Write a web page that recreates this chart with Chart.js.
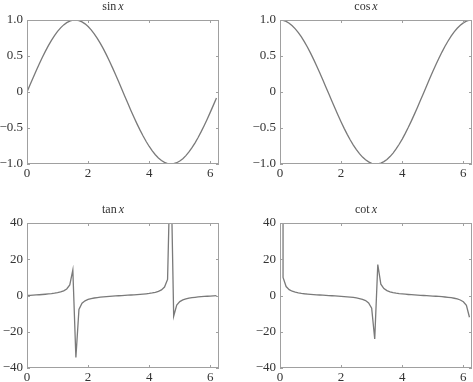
<!DOCTYPE html>
<html>
<head>
<meta charset="utf-8">
<script src="https://cdn.jsdelivr.net/npm/chart.js@4"></script>
<style>
 body{margin:0;background:#fff;}
 #wrap{position:relative;width:473px;height:382px;overflow:hidden;font-family:"Liberation Serif",serif;}
 .cell{position:absolute;width:236px;height:191px;}
 #probe{position:absolute;left:-100px;top:-100px;font:13px "Liberation Serif";}
</style>
</head>
<body>
<div id="wrap">
 <span id="probe">0.5 <i>x</i></span>
 <div class="cell" style="left:0;top:0"><canvas id="c1"></canvas></div>
 <div class="cell" style="left:237px;top:0"><canvas id="c2"></canvas></div>
 <div class="cell" style="left:0;top:191px"><canvas id="c3"></canvas></div>
 <div class="cell" style="left:237px;top:191px"><canvas id="c4"></canvas></div>
</div>
<script>
// sample points, step 0.1
var xs=[0,0.1,0.2,0.3,0.4,0.5,0.6,0.7,0.8,0.9,1.0,1.1,1.2,1.3,1.4,1.5,1.6,1.7,1.8,1.9,2.0,
 2.1,2.2,2.3,2.4,2.5,2.6,2.7,2.8,2.9,3.0,3.1,3.2,3.3,3.4,3.5,3.6,3.7,3.8,3.9,4.0,
 4.1,4.2,4.3,4.4,4.5,4.6,4.7,4.8,4.9,5.0,5.1,5.2,5.3,5.4,5.5,5.6,5.7,5.8,5.9,6.0,6.1,6.2];

var sinVals=[0,0.0998,0.1987,0.2955,0.3894,0.4794,0.5646,0.6442,0.7174,0.7833,0.8415,
 0.8912,0.9320,0.9636,0.9854,0.9975,0.9996,0.9917,0.9738,0.9463,0.9093,
 0.8632,0.8085,0.7457,0.6755,0.5985,0.5155,0.4274,0.3350,0.2392,0.1411,
 0.0416,-0.0584,-0.1577,-0.2555,-0.3508,-0.4425,-0.5298,-0.6119,-0.6878,-0.7568,
 -0.8183,-0.8716,-0.9162,-0.9516,-0.9775,-0.9937,-0.9999,-0.9962,-0.9825,-0.9589,
 -0.9258,-0.8835,-0.8323,-0.7728,-0.7055,-0.6313,-0.5507,-0.4646,-0.3739,-0.2794,-0.1822,-0.0831];

var cosVals=[1,0.9950,0.9801,0.9553,0.9211,0.8776,0.8253,0.7648,0.6967,0.6216,0.5403,
 0.4536,0.3624,0.2675,0.1700,0.0707,-0.0292,-0.1288,-0.2272,-0.3233,-0.4161,
 -0.5048,-0.5885,-0.6663,-0.7374,-0.8011,-0.8569,-0.9041,-0.9422,-0.9710,-0.9900,
 -0.9991,-0.9983,-0.9875,-0.9668,-0.9365,-0.8968,-0.8481,-0.7910,-0.7259,-0.6536,
 -0.5748,-0.4903,-0.4008,-0.3073,-0.2108,-0.1122,-0.0124,0.0875,0.1865,0.2837,
 0.3780,0.4685,0.5544,0.6347,0.7087,0.7756,0.8347,0.8855,0.9275,0.9602,0.9833,0.9965];

var tanVals=[0,0.1003,0.2027,0.3093,0.4228,0.5463,0.6841,0.8423,1.0296,1.2602,1.5574,
 1.9648,2.5722,3.6021,5.7979,14.1014,-34.2325,-7.6966,-4.2863,-2.9271,-2.1850,
 -1.7098,-1.3738,-1.1192,-0.9160,-0.7470,-0.6016,-0.4727,-0.3555,-0.2464,-0.1425,
 -0.0416,0.0585,0.1597,0.2643,0.3746,0.4934,0.6247,0.7736,0.9474,1.1578,
 1.4235,1.7778,2.2858,3.0963,4.6373,8.8602,80.7128,-11.3849,-5.2675,-3.3805,
 -2.4494,-1.8856,-1.5013,-1.2175,-0.9956,-0.8139,-0.6597,-0.5247,-0.4031,-0.2910,-0.1853,-0.0834];

var cotVals=[10000,9.9666,4.9332,3.2327,2.3652,1.8305,1.4617,1.1872,0.9712,0.7936,0.6421,
 0.5090,0.3888,0.2776,0.1725,0.0709,-0.0292,-0.1299,-0.2333,-0.3416,-0.4577,
 -0.5848,-0.7279,-0.8935,-1.0917,-1.3386,-1.6622,-2.1154,-2.8127,-4.0584,-7.0153,
 -24.0288,17.1004,6.2618,3.7833,2.6696,2.0266,1.6007,1.2927,1.0555,0.8637,
 0.7025,0.5625,0.4375,0.3230,0.2156,0.1129,0.0124,-0.0878,-0.1898,-0.2958,
 -0.4083,-0.5303,-0.6661,-0.8213,-1.0044,-1.2286,-1.5158,-1.9060,-2.4806,-3.4365,-5.3966,-11.9893];

var xTicks=[0,2,4,6];
var trigTicks=[-1,-0.5,0,0.5,1];
var bigTicks=[-40,-20,0,20,40];

var serif="'Liberation Serif'";

function fmt(v,trig){
 var s=trig?(v==0?'0':Math.abs(v).toFixed(1)):String(Math.abs(v));
 return (v<0?'\u2212':'')+s;
}

function boxPlugin(fn,name){
 return {
  id:'box'+name,
  afterDraw:function(chart){
   var ctx=chart.ctx,a=chart.chartArea;
   var xs_=chart.scales.x,ys_=chart.scales.y;
   ctx.save();
   ctx.strokeStyle='#a0a0a0';
   ctx.lineWidth=1;
   ctx.strokeRect(Math.round(a.left)+0.5,Math.round(a.top)+0.5,Math.round(a.right-a.left)-1,Math.round(a.bottom-a.top)-1);
   ctx.beginPath();
   xTicks.forEach(function(t){
    var p=Math.round(xs_.getPixelForValue(t))+0.5;
    ctx.moveTo(p,a.top);ctx.lineTo(p,a.top+3);
    ctx.moveTo(p,a.bottom);ctx.lineTo(p,a.bottom-3);
   });
   ys_.ticks.forEach(function(t){
    var p=Math.round(ys_.getPixelForValue(t.value))+0.5;
    ctx.moveTo(a.left,p);ctx.lineTo(a.left+3,p);
    ctx.moveTo(a.right,p);ctx.lineTo(a.right-3,p);
   });
   ctx.stroke();
   // title: function name upright, x italic
   ctx.fillStyle='#333';
   ctx.textBaseline='middle';
   ctx.font='12px '+serif;
   var w1=ctx.measureText(fn).width;
   ctx.font='italic 12px '+serif;
   var w2=ctx.measureText('x').width;
   var cx=(a.left+a.right)/2-10;
   var x0=cx-(w1+2+w2)/2;
   var ty=a.top-13;
   ctx.font='12px '+serif;
   ctx.textAlign='left';
   ctx.fillText(fn,x0,ty);
   ctx.font='italic 12px '+serif;
   ctx.fillText('x',x0+w1+2,ty);
   ctx.restore();
  }
 };
}

function makeChart(id,fn,vals,yTicks,trig,pad,yW,xH){
 var pts=xs.map(function(x,i){return {x:x,y:vals[i]};});
 new Chart(document.getElementById(id),{
  type:'line',
  data:{datasets:[{data:pts,borderColor:'#7a7a7a',borderWidth:1.3,pointRadius:0,tension:0,fill:false}]},
  options:{
   responsive:true,maintainAspectRatio:false,animation:false,
   layout:{padding:pad},
   plugins:{legend:{display:false},tooltip:{enabled:false}},
   scales:{
    x:{type:'linear',min:0,max:6.2832,
     afterBuildTicks:function(s){s.ticks=xTicks.map(function(v){return {value:v};});},
     afterFit:function(s){s.height=xH;},
     grid:{display:false,drawTicks:false},border:{display:false},
     ticks:{padding:2,color:'#333',font:{family:serif,size:13},maxRotation:0,
      callback:function(v){return String(v);}}},
    y:{type:'linear',min:yTicks[0],max:yTicks[yTicks.length-1],
     afterBuildTicks:function(s){s.ticks=yTicks.map(function(v){return {value:v};});},
     afterFit:function(s){s.width=yW;},
     grid:{display:false,drawTicks:false},border:{display:false},
     ticks:{padding:4,color:'#333',font:{family:serif,size:13},
      callback:function(v){return fmt(v,trig);}}}
   }
  },
  plugins:[boxPlugin(fn,id)]
 });
}

function drawAll(){
 makeChart('c1','sin',sinVals,trigTicks,true,{top:20,right:17,left:0,bottom:0},27,27);
 makeChart('c2','cos',cosVals,trigTicks,true,{top:20,right:1,left:0,bottom:0},43,27);
 makeChart('c3','tan',tanVals,bigTicks,false,{top:32,right:17,left:0,bottom:0},27,14);
 makeChart('c4','cot',cotVals,bigTicks,false,{top:32,right:1,left:0,bottom:0},43,14);
}

Promise.all([
 document.fonts.load("13px 'Liberation Serif'"),
 document.fonts.load("italic 12px 'Liberation Serif'")
]).then(drawAll,drawAll);
</script>
</body>
</html>
